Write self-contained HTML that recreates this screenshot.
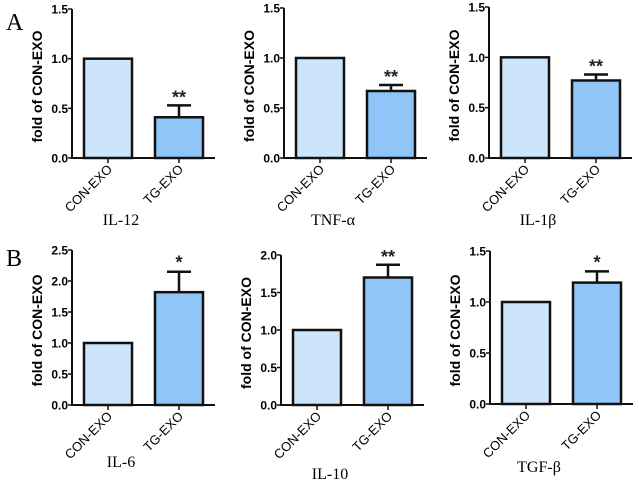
<!DOCTYPE html>
<html><head><meta charset="utf-8"><style>
body{margin:0;background:#fff;width:639px;height:489px;overflow:hidden}
svg{display:block}
</style></head><body>
<svg id="fig" width="639" height="489" xmlns="http://www.w3.org/2000/svg">
<text x="6" y="30" font-family="Liberation Serif, serif" font-size="24">A</text>
<text x="6" y="266" font-family="Liberation Serif, serif" font-size="24">B</text>
</svg>
<script>
const categories = ["CON-EXO","TG-EXO"];
const panelNames = ["IL-12","TNF-α","IL-1β","IL-6","IL-10","TGF-β"];
const conValues = [1,1,1,1,1,1];
const tgValues = [0.41,0.67,0.77,1.82,1.70,1.19];
const tgErrors = [0.12,0.06,0.06,0.33,0.17,0.11];
const sigMarks = ["**","**","**","*","**","*"];
const yMaxes = [1.5,1.5,1.5,2.5,2.0,1.5];
const yTickLabels = [
 ["0.0","0.5","1.0","1.5"],["0.0","0.5","1.0","1.5"],["0.0","0.5","1.0","1.5"],
 ["0.0","0.5","1.0","1.5","2.0","2.5"],["0.0","0.5","1.0","1.5","2.0"],["0.0","0.5","1.0","1.5"]];

const layout = [
 {ax:72,top:9,bot:158,ty:225},{ax:284,top:8,bot:158,ty:225},{ax:489,top:7,bot:158,ty:225},
 {ax:72,top:250,bot:405,ty:467},{ax:281,top:255,bot:405,ty:479},{ax:490,top:251,bot:404,ty:472}];
const NS="http://www.w3.org/2000/svg";
const svg=document.getElementById('fig');
function mk(tag,attrs,parent){const e=document.createElementNS(NS,tag);for(const k in attrs)e.setAttribute(k,attrs[k]);(parent||svg).appendChild(e);return e;}
panelNames.forEach((name,i)=>{
 const L=layout[i];
 const g=mk('g',{});
 
 
 const y=v=>L.bot-(v/yMaxes[i])*(L.bot-L.top);
 const x=c=>L.ax+36+c*71;
 const bw=48;
 const vals=[conValues[i],tgValues[i]];
 const fills=["#cce5fb","#8fc6f7"];
 vals.forEach((v,c)=>{
  const r=mk('rect',{x:x(c)-bw/2,y:y(v),width:bw,height:L.bot-y(v),fill:fills[c],stroke:"#111","stroke-width":2.5},g);
  
  
 });
 const e=tgValues[i]+tgErrors[i];
 const eb=mk('path',{d:`M${x(1)} ${y(tgValues[i])}V${y(e)}M${x(1)-12} ${y(e)}H${x(1)+12}`,stroke:"#111","stroke-width":2.5,fill:"none"},g);
 
 
 const s=mk('text',{x:x(1),y:y(e)-2+(sigMarks[i]=="*"?-1:0),"text-anchor":"middle","font-family":"Liberation Sans, sans-serif","font-size":18,"font-weight":"bold",fill:"#222"},g);
 s.textContent=sigMarks[i];
 
 
 const ax=mk('path',{d:`M${L.ax} ${L.top}V${L.bot}H${L.ax+143}`,stroke:"#111","stroke-width":2,fill:"none"},g);
 
 
 yTickLabels[i].forEach(t=>{
  const v=parseFloat(t),yy=y(v);
  mk('line',{x1:L.ax-4,x2:L.ax,y1:yy,y2:yy,stroke:"#111","stroke-width":1.5},g);
  const tl=mk('text',{x:L.ax-4,y:yy+4.5,"text-anchor":"end","font-family":"Liberation Sans, sans-serif","font-size":12,"font-weight":"bold"},g);
  tl.textContent=t;
  
  
 });
 categories.forEach((c,k)=>{
  mk('line',{x1:x(k),x2:x(k),y1:L.bot,y2:L.bot+5,stroke:"#111","stroke-width":1.5},g);
  const tx=x(k)+5,ty=L.bot+12;
  const xl=mk('text',{x:tx,y:ty,"text-anchor":"end","font-family":"Liberation Sans, sans-serif","font-size":13,transform:`rotate(-45 ${tx} ${ty})`},g);
  xl.textContent=c;
  
  
 });
 const cy=(L.top+L.bot)/2+3, cx=L.ax-30;
 const yl=mk('text',{x:cx,y:cy,"text-anchor":"middle","font-family":"Liberation Sans, sans-serif","font-size":14,"font-weight":"bold",transform:`rotate(-90 ${cx} ${cy})`},g);
 yl.textContent="fold of CON-EXO";
 
 
 const tt=mk('text',{x:L.ax+49,y:L.ty,"text-anchor":"middle","font-family":"Liberation Serif, serif","font-size":16},g);
 tt.textContent=name;
 
 
});
</script>
</body></html>
